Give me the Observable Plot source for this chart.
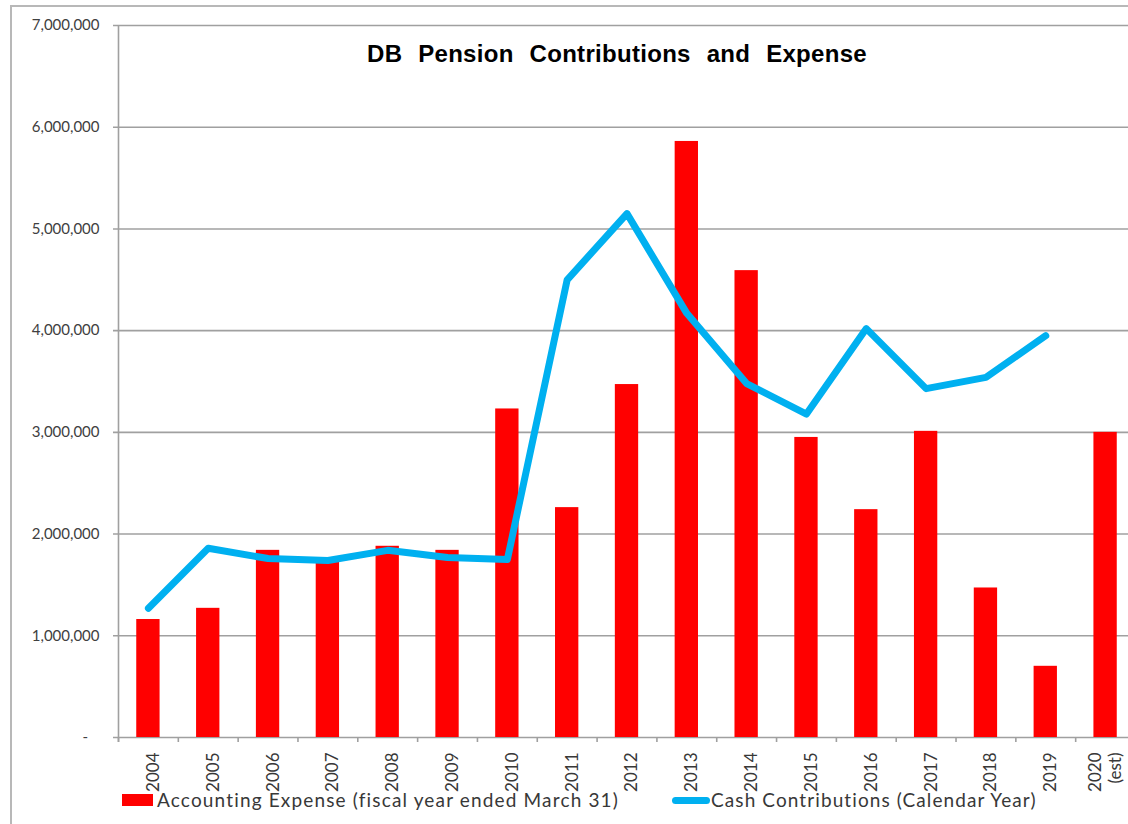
<!DOCTYPE html>
<html>
<head>
<meta charset="utf-8">
<script src="https://cdn.jsdelivr.net/npm/d3@7"></script>
<script src="https://cdn.jsdelivr.net/npm/@observablehq/plot@0.6"></script>
<style>
html, body { margin: 0; padding: 0; background: #fff; overflow: hidden; width: 1128px; height: 824px; }
#chart { position: absolute; left: 0; top: 0; }
#border { position: absolute; left: 10px; top: 5px; width: 1400px; height: 1000px; border-left: 2px solid #b8b8b8; border-top: 2px solid #b8b8b8; pointer-events: none; }
.txt { position: absolute; white-space: nowrap; }
#title { font-family: "Liberation Sans", Arial, sans-serif; font-weight: bold; font-size: 24px; line-height: 24px; color: #000; top: 42px; }
.leg { font-family: Lato, sans-serif; font-size: 19px; line-height: 19px; color: #383838; top: 790px; }
.sw { position: absolute; }
</style>
</head>
<body>
<div id="chart"></div>
<div id="border"></div>
<div id="title" class="txt"></div>
<div class="sw" id="sw1" style="left:122px; top:794px; width:31px; height:12px; background:#ff0000;"></div>
<div class="txt leg" id="leg1" style="left:157px;"></div>
<div class="sw" id="sw2" style="left:672px; top:797px; width:38px; height:7px; background:#00b0f0; border-radius:4px;"></div>
<div class="txt leg" id="leg2" style="left:711px;"></div>
<script>
const title = "DB Pension Contributions and Expense";
const years = ["2004","2005","2006","2007","2008","2009","2010","2011","2012","2013","2014","2015","2016","2017","2018","2019","2020"];
const xLabels = ["2004","2005","2006","2007","2008","2009","2010","2011","2012","2013","2014","2015","2016","2017","2018","2019","2020\n(est)"];
const expense = [1160000, 1270000, 1840000, 1740000, 1880000, 1840000, 3230000, 2260000, 3470000, 5860000, 4590000, 2950000, 2240000, 3010000, 1470000, 700000, 3000000];
const cash = [1270000, 1860000, 1760000, 1740000, 1840000, 1770000, 1750000, 4500000, 5150000, 4170000, 3480000, 3180000, 4020000, 3430000, 3540000, 3950000, null];
const yTicks = [0, 1000000, 2000000, 3000000, 4000000, 5000000, 6000000, 7000000];
const seriesNames = ["Accounting Expense (fiscal year ended March 31)", "Cash Contributions (Calendar Year)"];

const rows = years.map((y, i) => ({year: y, label: xLabels[i], expense: expense[i], cash: cash[i]}));
const cashRows = rows.filter(d => d.cash != null);

const W = 1140, H = 800;
const mL = 118, mR = 5, mT = 25, mB = 63;
const plotH = H - mT - mB;
const step = (W - mL - mR) / years.length;
const grey = "#a0a0a0";

const chart = Plot.plot({
  width: W,
  height: H,
  marginLeft: mL,
  marginRight: mR,
  marginTop: mT,
  marginBottom: mB,
  style: {fontFamily: "Lato, sans-serif", fontSize: "15px", color: "#404040", background: "transparent", maxWidth: "none", overflow: "visible"},
  x: {type: "band", domain: years, paddingInner: 0.61, paddingOuter: 0.305, round: false, axis: null},
  y: {domain: [0, 7000000], axis: null},
  marks: [
    Plot.ruleY(yTicks, {stroke: grey, strokeWidth: 1.6, insetLeft: -5}),
    Plot.ruleX([years[0]], {x: d => d, dx: -step / 2, stroke: grey, strokeWidth: 1.6, insetBottom: -5}),
    Plot.ruleX(years, {x: d => d, dx: -step / 2, stroke: grey, strokeWidth: 1.6, insetTop: plotH, insetBottom: -5}),
    Plot.axisY(yTicks, {tickSize: 0, tickPadding: 19, fill: "#404040", fontSize: 15,
      tickFormat: d => d === 0 ? "-\u00a0\u00a0\u00a0" : d3.format(",")(d)}),
    Plot.barY(rows, {x: "year", y: "expense", fill: "#ff0000"}),
    Plot.line(cashRows, {x: "year", y: "cash", stroke: "#00b0f0", strokeWidth: 7, strokeLinejoin: "round", strokeLinecap: "round"}),
    Plot.text(rows.filter(d => !d.label.includes("\n")), {x: "year", text: "label", frameAnchor: "bottom", rotate: -90, textAnchor: "end", lineAnchor: "middle", dy: 15, dx: 5, fontSize: 17, fill: "#383838"}),
    Plot.text(rows.filter(d => d.label.includes("\n")), {x: "year", text: "label", frameAnchor: "bottom", rotate: -90, textAnchor: "end", lineAnchor: "middle", lineHeight: 1.2, dy: 15, dx: -1, fontSize: 17, fill: "#383838"})
  ]
});
document.getElementById("chart").appendChild(chart);

function fit(el, target) {
  el.style.letterSpacing = "0px";
  const w = el.getBoundingClientRect().width;
  const n = el.textContent.length;
  el.style.letterSpacing = ((target - w) / n) + "px";
}
function fitWords(el, target, ls) {
  el.style.letterSpacing = ls + "px";
  el.style.wordSpacing = "0px";
  const w = el.getBoundingClientRect().width;
  const gaps = el.textContent.split(" ").length - 1;
  el.style.wordSpacing = ((target - w) / gaps) + "px";
}
const t = document.getElementById("title");
t.textContent = title;
t.style.left = (617 - 250) + "px";
fitWords(t, 500, 0.3);
const l1 = document.getElementById("leg1");
l1.textContent = seriesNames[0];
fit(l1, 462);
const l2 = document.getElementById("leg2");
l2.textContent = seriesNames[1];
fit(l2, 326);
</script>
</body>
</html>
